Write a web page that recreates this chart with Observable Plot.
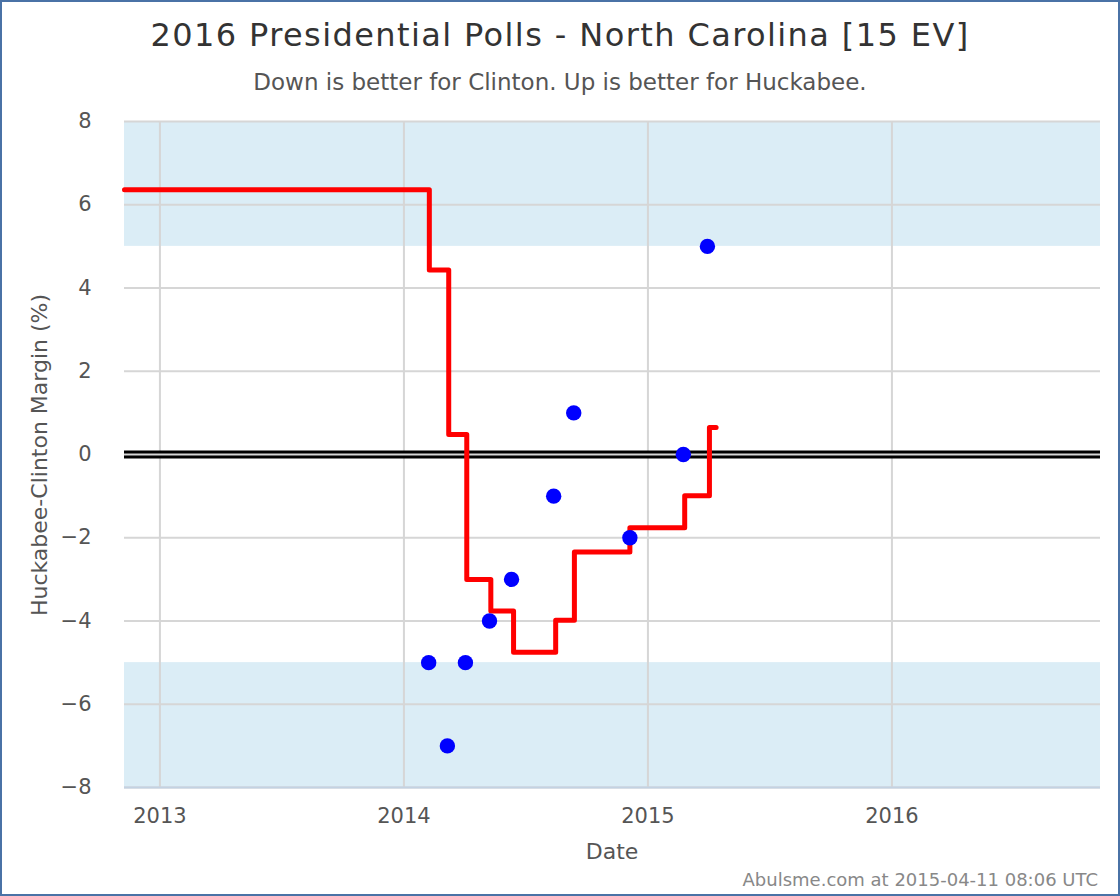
<!DOCTYPE html>
<html><head><meta charset="utf-8">
<script src="https://cdn.jsdelivr.net/npm/d3@7"></script>
<script src="https://cdn.jsdelivr.net/npm/@observablehq/plot@0.6"></script>
<style>
body{margin:0;background:#fff;font-family:"DejaVu Sans",sans-serif;}
#wrap{position:relative;width:1120px;height:896px;overflow:hidden;}
#border{position:absolute;left:0;top:0;width:1120px;height:896px;box-sizing:border-box;border:2px solid #4a72a6;pointer-events:none;}
.t{position:absolute;white-space:nowrap;}
</style></head>
<body><div id="wrap"></div>
<script>
// Data
const pollDates = ["2014-02-07","2014-03-07","2014-04-03","2014-05-09","2014-06-11","2014-08-13","2014-09-12","2014-12-05","2015-02-23","2015-03-31"];
const pollMargins = [-5,-7,-5,-4,-3,-1,1,-2,0,5];
const avgDates = ["2012-11-09","2014-02-08","2014-03-09","2014-04-05","2014-05-11","2014-06-14","2014-08-16","2014-09-13","2014-12-05","2015-02-25","2015-04-03","2015-04-13"];
const avgMargins = [6.36,4.43,0.48,-3.0,-3.76,-4.75,-3.98,-2.34,-1.76,-0.99,0.65,0.65];
const xDomain = ["2012-11-09","2016-11-08"];
const yTicks = [-8,-6,-4,-2,0,2,4,6,8];
const xTicks = ["2013-01-01","2014-01-01","2015-01-01","2016-01-01"];
const bandLo = [-8,-5];
const bandHi = [5,8];

const D = s => new Date(s + "T00:00:00Z");
const polls = pollDates.map((d,i)=>({date:D(d), m:pollMargins[i]}));
const avg = avgDates.map((d,i)=>({date:D(d), m:avgMargins[i]}));
const dom = xDomain.map(D);
const bands = [{y1:bandLo[0],y2:bandLo[1]},{y1:bandHi[0],y2:bandHi[1]}];

const chart = Plot.plot({
  width:1120, height:896,
  marginLeft:124, marginRight:20, marginTop:121, marginBottom:109,
  style:{fontFamily:"DejaVu Sans", background:"transparent"},
  x:{type:"utc", domain:dom},
  y:{domain:[-8,8]},
  marks:[
    Plot.rect(bands,{x1:dom[0], x2:dom[1], y1:"y1", y2:"y2", fill:"#dbedf6"}),
    Plot.gridY(yTicks,{stroke:"#d6d6d6", strokeOpacity:1, strokeWidth:2}),
    Plot.gridX(xTicks.map(D),{stroke:"#d6d6d6", strokeOpacity:1, strokeWidth:2}),
    Plot.ruleY([-8],{stroke:"#c3d2e2", strokeWidth:2}),
    Plot.ruleY([0],{stroke:"#000", strokeWidth:8}),
    Plot.ruleY([0],{stroke:"#d6d6d6", strokeWidth:2}),
    Plot.line(avg,{x:"date", y:"m", curve:"step-after", stroke:"#ff0000", strokeWidth:5, strokeLinejoin:"round", strokeLinecap:"round"}),
    Plot.dot(polls,{x:"date", y:"m", r:7.7, fill:"#0000ff", stroke:"none"}),
    Plot.axisY(yTicks,{tickSize:0, tickPadding:33, fontSize:21, fill:"#555", label:null, tickFormat:d=>d<0?"\u2212"+Math.abs(d):String(d)}),
    Plot.axisX(xTicks.map(D),{tickSize:0, tickPadding:21, fontSize:21, fill:"#555", label:null, tickFormat:d3.utcFormat("%Y")})
  ]
});
chart.style.position="absolute"; chart.style.left="0"; chart.style.top="0";
const wrap = document.getElementById("wrap");
wrap.appendChild(chart);

function addText(txt, css){ const d=document.createElement("div"); d.className="t"; d.textContent=txt; Object.assign(d.style, css); wrap.appendChild(d); return d; }
addText("2016 Presidential Polls - North Carolina [15 EV]",{left:"0",width:"1120px",textAlign:"center",top:"15px",fontSize:"32px",letterSpacing:"1.4px",color:"#333",lineHeight:"40px"});
addText("Down is better for Clinton. Up is better for Huckabee.",{left:"0",width:"1120px",textAlign:"center",top:"69px",fontSize:"23px",color:"#555",lineHeight:"26px"});
addText("Date",{left:"512px",width:"200px",textAlign:"center",top:"838px",fontSize:"22px",color:"#555",lineHeight:"28px"});
addText("Huckabee-Clinton Margin (%)",{left:"-160px",width:"400px",textAlign:"center",top:"441px",fontSize:"22px",color:"#555",lineHeight:"28px",transform:"rotate(-90deg)"});
addText("Abulsme.com at 2015-04-11 08:06 UTC",{right:"22px",top:"869px",fontSize:"18px",color:"#888",lineHeight:"22px"});
const b=document.createElement("div"); b.id="border"; wrap.appendChild(b);
</script></body></html>
